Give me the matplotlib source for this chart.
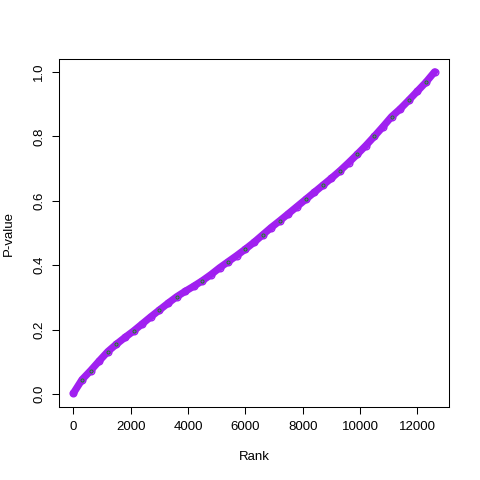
import numpy as np
import matplotlib
matplotlib.use("Agg")
import matplotlib.pyplot as plt

plt.rcParams['font.family'] = ['Liberation Sans', 'DejaVu Sans']

# sorted p-values at regular ranks
rank = [0, 300, 600, 900, 1200, 1500, 1800, 2100, 2400, 2700, 3000, 3300,
        3600, 3900, 4200, 4500, 4800, 5100, 5400, 5700, 6000, 6300, 6600,
        6900, 7200, 7500, 7800, 8100, 8400, 8700, 9000, 9300, 9600, 9900,
        10200, 10500, 10800, 11100, 11400, 11700, 12000, 12300, 12600]
pval = [0.003, 0.045, 0.073, 0.103, 0.132, 0.155, 0.176, 0.196, 0.218,
        0.240, 0.261, 0.282, 0.302, 0.319, 0.335, 0.352, 0.371, 0.392,
        0.411, 0.430, 0.450, 0.471, 0.494, 0.517, 0.538, 0.560, 0.582,
        0.604, 0.626, 0.648, 0.670, 0.693, 0.718, 0.744, 0.771, 0.800,
        0.830, 0.861, 0.885, 0.912, 0.940, 0.968, 1.0]

# points highlighted in green (indices into the arrays above)
green_idx = [1, 2, 4, 5, 7, 10, 12, 15, 18, 20, 22, 24, 27, 29, 31, 33,
             35, 37, 39, 41]

fig = plt.figure(figsize=(4.8, 4.8), dpi=100)
ax = fig.add_axes([59/480, 73/480, 390/480, 348/480])

purple = '#A020F0'
ax.plot(rank, pval, color=purple, lw=5.2, solid_capstyle='round', zorder=2)
ax.plot(rank, pval, ls='none', marker='o', mfc='none', mec=purple,
        ms=4.8, mew=1.0, zorder=2)
gx = [rank[i] for i in green_idx]
gy = [pval[i] for i in green_idx]
ax.plot(gx, gy, ls='none', marker='o', mfc='none', mec='#1a8a1a',
        ms=2.2, mew=0.7, zorder=3)

ax.set_xlim(-504, 13104)
ax.set_ylim(-0.04, 1.04)
ax.set_xticks([0, 2000, 4000, 6000, 8000, 10000, 12000])
ax.set_yticks([0.0, 0.2, 0.4, 0.6, 0.8, 1.0])
ax.set_yticklabels(['0.0', '0.2', '0.4', '0.6', '0.8', '1.0'],
                   rotation=90, va='center')
ax.tick_params(direction='out', length=5, width=0.75, labelsize=9.5,
               pad=5)
for s in ax.spines.values():
    s.set_linewidth(0.75)
ax.set_xlabel('Rank', fontsize=9.5, labelpad=13)
ax.set_ylabel('P-value', fontsize=9.5, labelpad=13)

fig.savefig('out.png', dpi=100)
